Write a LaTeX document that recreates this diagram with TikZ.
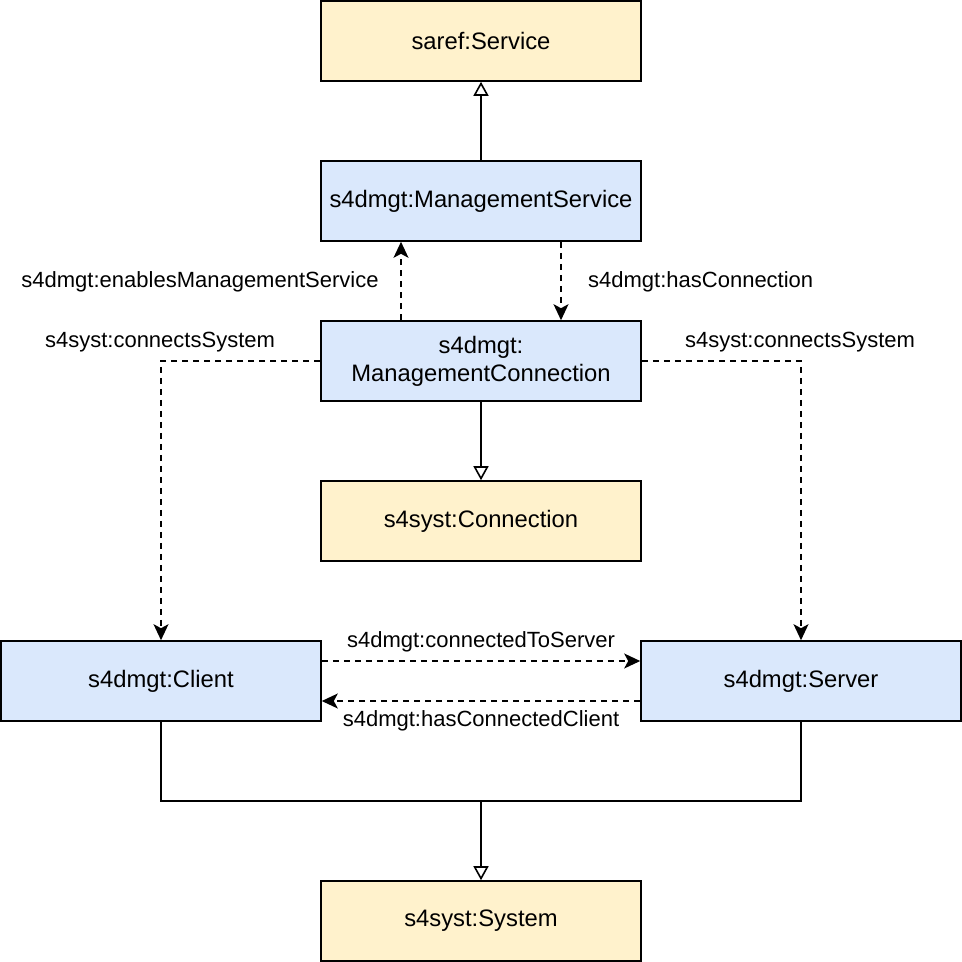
\documentclass[tikz,border=0pt]{standalone}
\usepackage{fontspec}
\setmainfont{Liberation Sans}
\usetikzlibrary{arrows.meta}
\definecolor{yfill}{HTML}{FFF2CC}
\definecolor{bfill}{HTML}{DAE8FC}
\tikzset{
  box/.style={draw=black, line width=1.6pt, minimum width=320pt, minimum height=80pt, inner sep=0pt, align=center, font=\fontsize{23.8}{28}\selectfont},
  ybox/.style={box, fill=yfill},
  bbox/.style={box, fill=bfill},
  lbl/.style={inner sep=1pt, font=\fontsize{22}{26}\selectfont},
  isa/.style={line width=1.6pt, -{Triangle[open, length=14pt, width=15pt, line width=1.6pt]}},
  rel/.style={line width=1.6pt, dash pattern=on 6pt off 5pt, -{Stealth[length=16pt, width=15pt, inset=4pt]}},
}
\begin{document}
\begin{tikzpicture}[x=1pt, y=-1pt]
\useasboundingbox (0,0) rectangle (962,962);
\node[ybox] (service) at (481,41) {saref:Service};
\node[bbox] (ms) at (481,201) {s4dmgt:ManagementService};
\node[bbox] (mc) at (481,361) {s4dmgt:\\ManagementConnection};
\node[ybox] (conn) at (481,521) {s4syst:Connection};
\node[bbox] (client) at (161,681) {s4dmgt:Client};
\node[bbox] (server) at (801,681) {s4dmgt:Server};
\node[ybox] (system) at (481,921) {s4syst:System};

\coordinate (join) at (481,801);

\draw[isa] (ms.north) -- (service.south);
\draw[isa] (mc.south) -- (conn.north);
\draw[line width=1.6pt] (client.south) |- (join);
\draw[line width=1.6pt] (server.south) |- (join);
\draw[isa] (join) -- (system.north);

\draw[rel] (mc.north -| 401,0) -- (ms.south -| 401,0);
\draw[rel] (ms.south -| 561,0) -- (mc.north -| 561,0);
\draw[rel] (mc.west) -| (client.north);
\draw[rel] (mc.east) -| (server.north);
\draw[rel] (client.east |- 0,661) -- (server.west |- 0,661);
\draw[rel] (server.west |- 0,701) -- (client.east |- 0,701);

\node[lbl] (l1) at (200,282) {s4dmgt:enablesManagementService};
\node[lbl, anchor=west] (l2) at (587,282) {s4dmgt:hasConnection};
\node[lbl] (l3) at (160,342) {s4syst:connectsSystem};
\node[lbl] (l4) at (800,342) {s4syst:connectsSystem};
\node[lbl] (l5) at (481,642) {s4dmgt:connectedToServer};
\node[lbl, fill=white] (l6) at (481,721) {s4dmgt:hasConnectedClient};
\end{tikzpicture}
\end{document}
